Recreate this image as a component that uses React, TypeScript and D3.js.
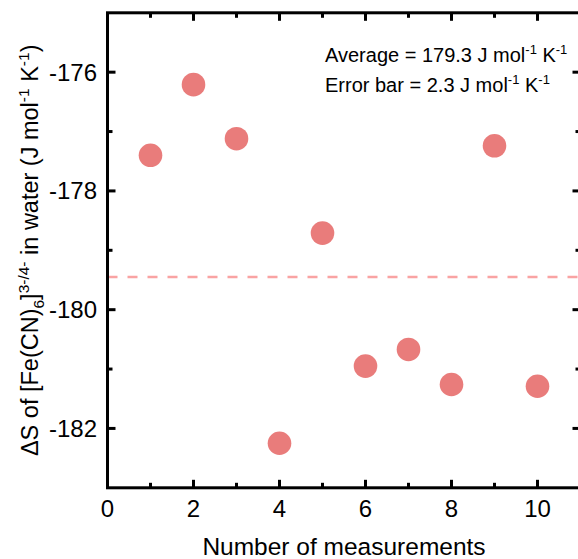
import React from "react";
import * as d3 from "d3";

const measurements = [1, 2, 3, 4, 5, 6, 7, 8, 9, 10];
const entropyValues = [-177.4, -176.21, -177.12, -182.25, -178.71, -180.95, -180.67, -181.26, -177.24, -181.29];
const averageLine = -179.45;
const xMajorTicks = [0, 2, 4, 6, 8, 10];
const xMinorTicks = [1, 3, 5, 7, 9];
const yMajorTicks = [-182, -180, -178, -176];
const yMinorTicks = [-181, -179, -177];

const W = 578;
const H = 559;
const FONT = "'Liberation Sans', Arial, Helvetica, sans-serif";

export default function App() {
  const x = d3.scaleLinear().domain([0, 11]).range([107.5, 580.5]);
  const y = d3.scaleLinear().domain([-183, -175]).range([487.8, 12.8]);
  const [x0, x1] = x.range();
  const [yb, yt] = y.range();
  const axisW = 3;
  const majorLen = 8;
  const minorLen = 5;
  const pointColor = "#E97C7B";
  const dashColor = "#F9A3A3";

  return (
    <svg width={W} height={H} style={{ position: "absolute", left: 0, top: 0, background: "#fff" }} fontFamily={FONT}>
      {/* dashed average line */}
      <line x1={x0} x2={W} y1={y(averageLine)} y2={y(averageLine)} stroke={dashColor} strokeWidth={2.5} strokeDasharray="10,10" />

      {/* points */}
      {measurements.map((m, i) => (
        <circle key={m} cx={x(m)} cy={y(entropyValues[i])} r={11.8} fill={pointColor} />
      ))}

      {/* ticks */}
      <g stroke="#000" strokeWidth={axisW}>
        {xMajorTicks.map((t) => (
          <g key={"xM" + t}>
            <line x1={x(t)} x2={x(t)} y1={yb} y2={yb - majorLen} />
            <line x1={x(t)} x2={x(t)} y1={yt} y2={yt + majorLen} />
          </g>
        ))}
        {xMinorTicks.map((t) => (
          <g key={"xm" + t}>
            <line x1={x(t)} x2={x(t)} y1={yb} y2={yb - minorLen} />
            <line x1={x(t)} x2={x(t)} y1={yt} y2={yt + minorLen} />
          </g>
        ))}
        {yMajorTicks.map((t) => (
          <g key={"yM" + t}>
            <line x1={x0} x2={x0 + majorLen} y1={y(t)} y2={y(t)} />
            <line x1={x1} x2={x1 - majorLen} y1={y(t)} y2={y(t)} />
          </g>
        ))}
        {yMinorTicks.map((t) => (
          <g key={"ym" + t}>
            <line x1={x0} x2={x0 + minorLen} y1={y(t)} y2={y(t)} />
            <line x1={x1} x2={x1 - minorLen} y1={y(t)} y2={y(t)} />
          </g>
        ))}
      </g>

      {/* frame */}
      <rect x={x0} y={yt} width={x1 - x0} height={yb - yt} fill="none" stroke="#000" strokeWidth={axisW} />

      {/* tick labels */}
      <g fontSize={24} fill="#000">
        {yMajorTicks.map((t) => (
          <text key={"yl" + t} x={97} y={y(t) + 8.5} textAnchor="end">
            {t}
          </text>
        ))}
        {xMajorTicks.map((t) => (
          <text key={"xl" + t} x={x(t)} y={517} textAnchor="middle">
            {t}
          </text>
        ))}
      </g>

      {/* axis titles */}
      <text x={x(5.5)} y={555} textAnchor="middle" fontSize={24.5} fill="#000">
        Number of measurements
      </text>
      <text transform={`translate(38, ${(yt + yb) / 2}) rotate(-90)`} textAnchor="middle" fontSize={23.5} fill="#000">
        ΔS of [Fe(CN)
        <tspan dy={6} fontSize={15.5}>6</tspan>
        <tspan dy={-6}>]</tspan>
        <tspan dy={-9} fontSize={15.5}>3-/4-</tspan>
        <tspan dy={9}> in water (J mol</tspan>
        <tspan dy={-9} fontSize={15.5}>-1</tspan>
        <tspan dy={9}> K</tspan>
        <tspan dy={-9} fontSize={15.5}>-1</tspan>
        <tspan dy={9}>)</tspan>
      </text>

      {/* annotation */}
      <g fontSize={20} fill="#000">
        <text x={325} y={61.7}>
          Average = 179.3 J mol
          <tspan dy={-8} fontSize={13}>-1</tspan>
          <tspan dy={8}> K</tspan>
          <tspan dy={-8} fontSize={13}>-1</tspan>
        </text>
        <text x={325} y={91.7}>
          Error bar = 2.3 J mol
          <tspan dy={-8} fontSize={13}>-1</tspan>
          <tspan dy={8}> K</tspan>
          <tspan dy={-8} fontSize={13}>-1</tspan>
        </text>
      </g>
    </svg>
  );
}
